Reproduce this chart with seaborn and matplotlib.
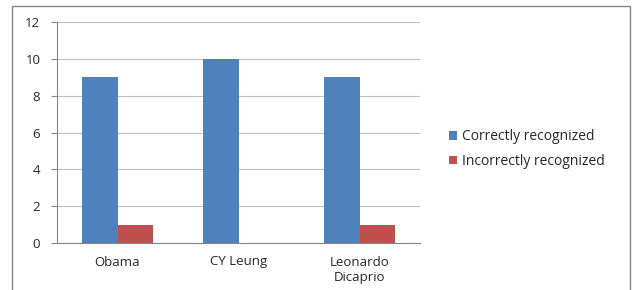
import pandas as pd
import numpy as np
import matplotlib
matplotlib.use('Agg')
import matplotlib.pyplot as plt
import seaborn as sns
from matplotlib.patches import Rectangle

# data
people = ['Obama', 'CY Leung', 'Leonardo\nDicaprio']
correct = [9, 10, 9]
incorrect = [1, 0, 1]
series = ['Correctly recognized', 'Incorrectly recognized']
colors = ['#4F81BD', '#C0504D']

df = pd.DataFrame({
    'person': people * 2,
    'count': correct + incorrect,
    'series': [series[0]] * 3 + [series[1]] * 3,
})

sns.set_style('white')
plt.rcParams['font.family'] = ['Open Sans', 'DejaVu Sans']

fig = plt.figure(figsize=(6.33, 2.90), dpi=100)
ax = fig.add_axes([57 / 633, 47 / 290, 363 / 633, 221 / 290])

sns.barplot(data=df, x='person', y='count', hue='series', palette=colors,
            width=0.58, gap=0, saturation=1, ax=ax, linewidth=0)

ax.set_ylim(0, 12)
ax.set_yticks(np.arange(0, 13, 2))
ax.set_xlim(-0.5, 2.5)
ax.set_xlabel('')
ax.set_ylabel('')
ax.yaxis.grid(True, color='#BFBFBF', lw=0.8)
ax.set_axisbelow(True)
for s in ['top', 'right']:
    ax.spines[s].set_visible(False)
for s in ['left', 'bottom']:
    ax.spines[s].set_color('#868686')
    ax.spines[s].set_linewidth(0.8)

ax.tick_params(axis='x', which='major', length=0, labelsize=9.5, pad=9)
ax.set_xticks([-0.5, 0.5, 1.5, 2.5], minor=True)
ax.tick_params(axis='x', which='minor', length=4, color='#868686', direction='out')
ax.tick_params(axis='y', length=4, color='#868686', labelsize=9.5, pad=8, direction='out', left=True)

leg = ax.legend(loc='center left', bbox_to_anchor=(436 / 633, 141 / 290),
                bbox_transform=fig.transFigure, frameon=False, fontsize=10,
                handlelength=0.6, handleheight=0.6, handletextpad=0.4, labelspacing=0.7)

# outer frame of the chart area
fig.patches.append(Rectangle((12 / 633, -0.05), 618 / 633, 1.05 - 6 / 290,
                             transform=fig.transFigure, fill=False,
                             edgecolor='#868686', lw=1))

fig.savefig('out.png', dpi=100)
